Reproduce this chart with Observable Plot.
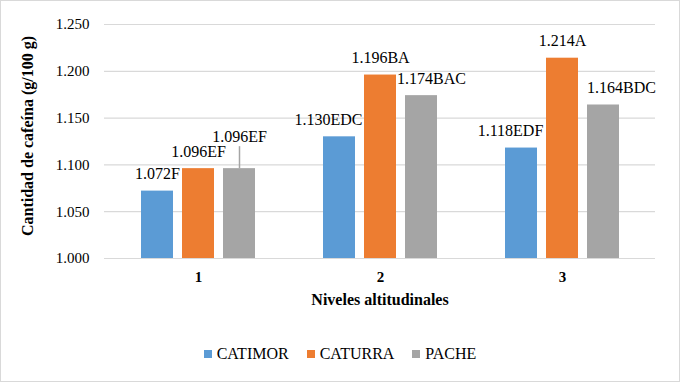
<!DOCTYPE html>
<html><head><meta charset="utf-8">
<script src="https://cdn.jsdelivr.net/npm/d3@7"></script>
<script src="https://cdn.jsdelivr.net/npm/@observablehq/plot@0.6"></script>
<style>
body{margin:0;background:#fff;}
#chart{position:relative;width:680px;height:382px;overflow:hidden;font-family:'Liberation Serif',serif;color:#000;background:#fff;}
#chart svg{position:absolute;left:0;top:0;overflow:visible;}
#chart svg text{font-family:'Liberation Serif',serif;}
#frame{position:absolute;left:0;top:0;width:680px;height:382px;box-sizing:border-box;border:1px solid #d9d9d9;pointer-events:none;}
#ytitle{position:absolute;left:28px;top:136px;transform:translate(-50%,-50%) rotate(-90deg);white-space:nowrap;font-weight:bold;font-size:16px;font-family:'Liberation Serif',serif;}
#xtitle{position:absolute;left:380px;top:300px;transform:translate(-50%,-50%);white-space:nowrap;font-weight:bold;font-size:16px;font-family:'Liberation Serif',serif;}
#legend{position:absolute;left:0;top:344px;width:680px;height:20px;display:flex;justify-content:center;align-items:center;font-size:16px;font-family:'Liberation Serif',serif;}
.sw{display:inline-flex;align-items:center;margin:0 9px;}
.sq{display:inline-block;width:8px;height:8px;margin-right:5px;}
</style>
</head><body>
<div id="chart">
<div id="ytitle">Cantidad de cafeína (g/100 g)</div>
<div id="xtitle">Niveles altitudinales</div>
<div id="legend"></div>
<div id="frame"></div>
</div>
<script>
// ---- data ----
const levels = ["1", "2", "3"];
const series = ["CATIMOR", "CATURRA", "PACHE"];
const colors = ["#5B9BD5", "#ED7D31", "#A5A5A5"];
const catimor = [1.072, 1.130, 1.118];
const caturra = [1.096, 1.196, 1.214];
const pache = [1.096, 1.174, 1.164];
const catimorLetters = ["F", "EDC", "EDF"];
const caturraLetters = ["EF", "BA", "A"];
const pacheLetters = ["EF", "BAC", "BDC"];
const yTicks = [1.000, 1.050, 1.100, 1.150, 1.200, 1.250];

// ---- layout: label nudges (pixels), as Excel placed them ----
const labelDx = {CATIMOR: [0, -11, -11], CATURRA: [0, 0, 0], PACHE: [0, 10, 18]};
const labelDy = {CATIMOR: [0, 0, 0], CATURRA: [0, 0, 0], PACHE: [-15, 0, 0]};

const FONT = "'Liberation Serif', serif";
const W = 680, H = 325, ML = 104, MR = 25, MT = 24, MB = 67;
const valuesBy = {CATIMOR: catimor, CATURRA: caturra, PACHE: pache};
const lettersBy = {CATIMOR: catimorLetters, CATURRA: caturraLetters, PACHE: pacheLetters};
const rows = [];
levels.forEach((lv, i) => series.forEach(s => rows.push({
  level: lv, series: s, value: valuesBy[s][i], letters: lettersBy[s][i],
  dx: labelDx[s][i], dy: labelDy[s][i]
})));

// background: full-width gridlines and y axis
const back = Plot.plot({
  width: W, height: H, marginLeft: ML, marginRight: MR, marginTop: MT, marginBottom: MB,
  style: {fontFamily: FONT, fontSize: "15px", color: "#000", background: "transparent"},
  x: {axis: null},
  y: {domain: [1.0, 1.25]},
  marks: [
    Plot.ruleY(yTicks, {y: d => d, stroke: "#d9d9d9", strokeWidth: 1.2}),
    Plot.axisY(yTicks, {tickFormat: d3.format(".3f"), tickSize: 0, tickPadding: 15, label: null, fontSize: 15, fontFamily: FONT})
  ]
});

const labelMarks = rows.map(r => Plot.text([r], {
  fx: "level", x: "series", y: "value",
  text: d => d3.format(".3f")(d.value) + d.letters,
  lineAnchor: "bottom", dy: -12 + r.dy, dx: r.dx,
  fontSize: 16, fontFamily: FONT, fill: "#000"
}));
const leaders = rows.filter(r => r.dy !== 0).map(r => Plot.ruleX([r], {
  fx: "level", x: "series", y1: "value", y2: "value",
  insetTop: -22, stroke: "#A5A5A5", strokeWidth: 1.5
}));

// foreground: grouped bars
const front = Plot.plot({
  width: W, height: H, marginLeft: ML, marginRight: MR, marginTop: MT, marginBottom: MB,
  style: {fontFamily: FONT, fontSize: "15px", color: "#000", background: "transparent"},
  fx: {domain: levels, paddingInner: 0.375, paddingOuter: 0.197, label: null},
  x: {domain: series, paddingInner: 0.22, paddingOuter: 0, axis: null},
  y: {domain: [1.0, 1.25], axis: null},
  color: {domain: series, range: colors},
  marks: [
    Plot.barY(rows, {fx: "level", x: "series", y1: 1.0, y2: "value", fill: "series"}),
    ...leaders,
    ...labelMarks,
    Plot.axisFx({anchor: "bottom", tickSize: 0, tickPadding: 13, label: null, fontWeight: "bold", fontSize: 15, fontFamily: FONT})
  ]
});
const chart = document.getElementById("chart");
chart.prepend(front);
chart.prepend(back);

const lg = document.getElementById("legend");
series.forEach((s, i) => {
  const el = document.createElement("span");
  el.className = "sw";
  el.innerHTML = `<span class="sq" style="background:${colors[i]}"></span>${s}`;
  lg.appendChild(el);
});
</script>
</body></html>
